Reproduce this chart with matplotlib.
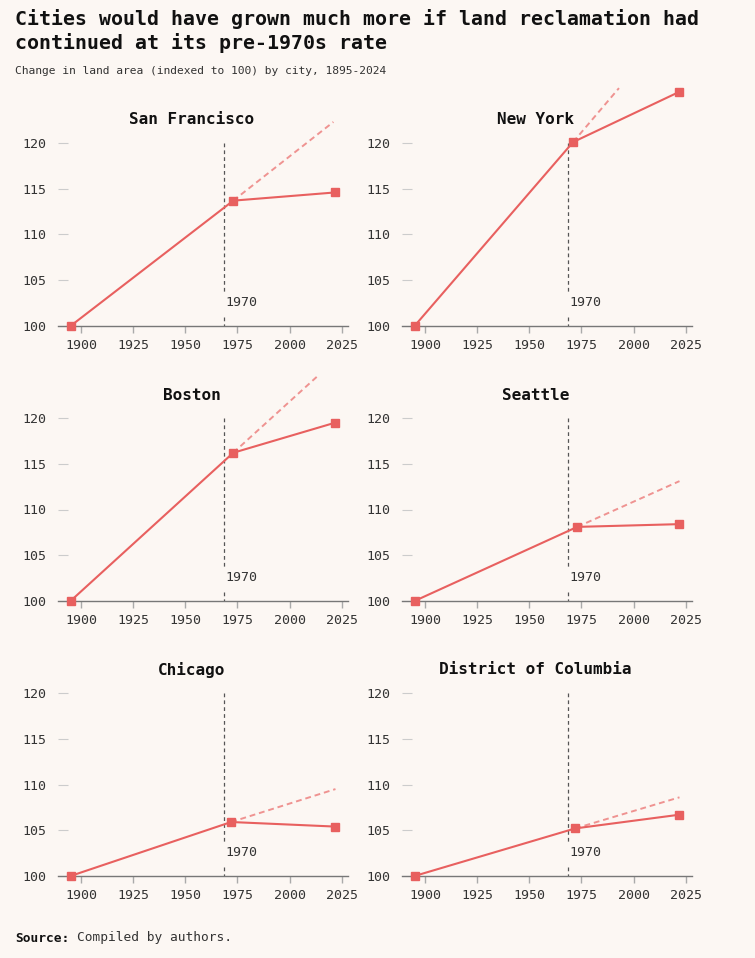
import numpy as np
import matplotlib.pyplot as plt

plt.rcParams['font.family'] = ['DejaVu Sans Mono']

# data
cities = ['San Francisco', 'New York', 'Boston', 'Seattle', 'Chicago', 'District of Columbia']
years = [
    [1895, 1973, 2022],
    [1895, 1971, 2022],
    [1895, 1973, 2022],
    [1895, 1973, 2022],
    [1895, 1972, 2022],
    [1895, 1972, 2022],
]
values = [
    [100, 113.7, 114.6],
    [100, 120.1, 125.6],
    [100, 116.2, 119.5],
    [100, 108.1, 108.4],
    [100, 105.9, 105.4],
    [100, 105.2, 106.7],
]
# pre-1970 trend continued (end points)
trend_end_year = [2021, 1993, 2014, 2022, 2022, 2022]
trend_end_value = [122.3, 126.0, 124.7, 113.1, 109.5, 108.6]

cutoff_year = 1968.5
yticks = [100, 105, 110, 115, 120]
xticks = [1900, 1925, 1950, 1975, 2000, 2025]

bg = '#fcf7f3'
red = '#e8605f'
red_light = '#ef9391'

W, H = 755, 958
fig = plt.figure(figsize=(W / 100, H / 100), dpi=100, facecolor=bg)

lefts = [58, 402]
bottoms = [326, 601, 876]
aw, ah = 290, 183

for i, city in enumerate(cities):
    r, c = divmod(i, 2)
    ax = fig.add_axes([lefts[c] / W, 1 - bottoms[r] / H, aw / W, ah / H])
    ax.set_facecolor(bg)
    ax.set_xlim(1889, 2028)
    ax.set_ylim(100, 120)

    for s in ['top', 'right', 'left']:
        ax.spines[s].set_visible(False)
    ax.spines['bottom'].set_color('#777777')
    ax.spines['bottom'].set_linewidth(1.0)

    ax.set_xticks(xticks)
    ax.set_yticks(yticks)
    ax.tick_params(axis='x', length=5, color='#aaaaaa', width=1.0, labelsize=9.5,
                   labelcolor='#333333', pad=4.5)
    ax.tick_params(axis='y', direction='in', length=7, color='#cccccc', width=0.8,
                   labelsize=9.5, labelcolor='#333333', pad=8)

    # cutoff line with a gap around the label
    ax.plot([cutoff_year, cutoff_year], [120, 103.6], color='#555555', lw=0.9,
            ls=(0, (3, 2.5)), zorder=2)
    ax.plot([cutoff_year, cutoff_year], [101.0, 100], color='#555555', lw=0.9,
            ls=(0, (3, 2.5)), zorder=2)
    ax.text(cutoff_year + 0.5, 102.6, '1970', fontsize=9.5, color='#333333',
            ha='left', va='center')

    # trend line
    ax.plot([years[i][1], trend_end_year[i]], [values[i][1], trend_end_value[i]],
            color=red_light, lw=1.4, ls=(0, (3, 2)), clip_on=False, zorder=3)
    # actual
    ax.plot(years[i], values[i], color=red, lw=1.5, marker='s', markersize=5.3,
            clip_on=False, zorder=4)

    ax.text(0.46, 1 + 23 / ah, city, transform=ax.transAxes, ha='center', va='center',
            fontsize=11.5, fontweight='bold', color='#111111')

fig.text(15 / W, 1 - 19 / H, 'Cities would have grown much more if land reclamation had',
         fontsize=14.3, fontweight='bold', color='#111111', ha='left', va='center')
fig.text(15 / W, 1 - 43 / H, 'continued at its pre-1970s rate',
         fontsize=14.3, fontweight='bold', color='#111111', ha='left', va='center')
fig.text(15 / W, 1 - 71 / H, 'Change in land area (indexed to 100) by city, 1895-2024',
         fontsize=8.15, color='#333333', ha='left', va='center')
fig.text(15 / W, 1 - 938 / H, 'Source:', fontsize=9.3, fontweight='bold',
         color='#111111', ha='left', va='center')
fig.text(15 / W + 8 * 7.8 / W, 1 - 938 / H, 'Compiled by authors.', fontsize=9.3,
         color='#333333', ha='left', va='center')

fig.savefig('out.png', dpi=100, facecolor=bg)
